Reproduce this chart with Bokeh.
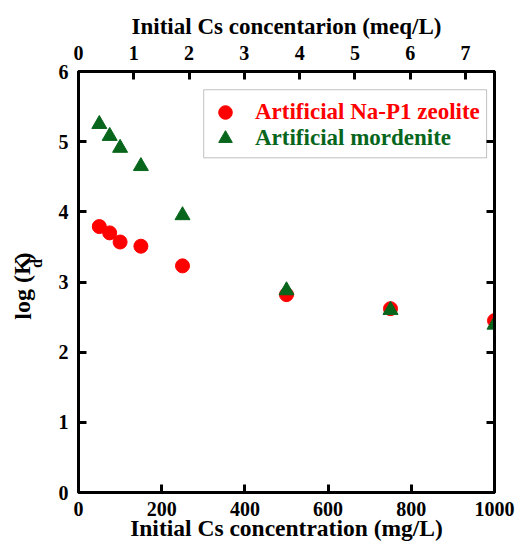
from bokeh.plotting import figure
from bokeh.layouts import row
from bokeh.models import Range1d, LinearAxis, Legend, LegendItem, Label, BoxAnnotation, FixedTicker
from bokeh.embed import file_html
from bokeh.resources import INLINE

# ---- data ----
conc_mg = [50, 75, 100, 150, 250, 500, 750, 1000]
logkd_nap1 = [3.79, 3.70, 3.57, 3.51, 3.23, 2.82, 2.62, 2.45]
logkd_mord = [5.25, 5.08, 4.91, 4.65, 3.95, 2.88, 2.60, 2.39]
x_ticks = [0, 200, 400, 600, 800, 1000]
y_ticks = [0, 1, 2, 3, 4, 5, 6]
meq_ticks = [0, 1, 2, 3, 4, 5, 6, 7]
CS_MG_PER_MEQ = 132.9
name_nap1 = "Artificial Na-P1 zeolite"
name_mord = "Artificial mordenite"
bottom_title = "Initial Cs concentration (mg/L)"
top_title = "Initial Cs concentarion (meq/L)"
y_title_main, y_title_sub, y_title_end = "log (K", "d", ")"

FONT = "Liberation Serif"
RED = "#ff0000"
GREEN = "#07661c"
W_LEFT = 50
H = 546

# narrow strip on the left holding the rotated y title (pixel-like coordinates)
t = figure(width=W_LEFT, height=H, x_range=Range1d(0, W_LEFT), y_range=Range1d(H, 0),
           x_axis_location=None, y_axis_location=None, output_backend="svg",
           toolbar_location=None, min_border=0)
t.xgrid.visible = False
t.ygrid.visible = False
t.outline_line_color = None
lab_style = dict(text_font=FONT, text_font_style="bold", text_color="black",
                 angle=1.5708, text_baseline="middle", text_align="left")
t.add_layout(Label(x=22, y=322, text=y_title_main, text_font_size="24px", **lab_style))
t.add_layout(Label(x=36, y=255, text=y_title_sub, text_font_size="16px", **lab_style))
t.add_layout(Label(x=22, y=245, text=y_title_end, text_font_size="24px", **lab_style))

p = figure(width=530 - W_LEFT, height=H,
           x_range=Range1d(0, 1000), y_range=Range1d(0, 6),
           extra_x_ranges={"meq": Range1d(0, 1000 / CS_MG_PER_MEQ)},
           output_backend="svg", toolbar_location=None,
           min_border_left=78 - W_LEFT, min_border_top=71, min_border_right=36, min_border_bottom=54)

top = LinearAxis(x_range_name="meq", ticker=FixedTicker(ticks=meq_ticks), axis_label=top_title)
p.add_layout(top, "above")
right = LinearAxis(ticker=FixedTicker(ticks=y_ticks))
p.add_layout(right, "right")

bottom = p.below[0]
left = p.left[0]
bottom.ticker = FixedTicker(ticks=x_ticks)
left.ticker = FixedTicker(ticks=y_ticks)
bottom.axis_label = bottom_title

p.xgrid.visible = False
p.ygrid.visible = False
p.outline_line_color = "black"
p.outline_line_width = 3

for ax in [bottom, left, top, right]:
    ax.axis_line_width = 3
    ax.axis_line_color = "black"
    ax.major_tick_line_width = 3
    ax.major_tick_line_color = "black"
    ax.major_tick_in = 8
    ax.major_tick_out = 0
    ax.minor_tick_line_color = None
    ax.major_label_text_font = FONT
    ax.major_label_text_font_style = "bold"
    ax.major_label_text_font_size = "20px"
    ax.major_label_text_color = "black"
    ax.major_label_standoff = 10
    ax.axis_label_text_font = FONT
    ax.axis_label_text_font_style = "bold"
    ax.axis_label_text_font_size = "24px"
    ax.axis_label_text_color = "black"
right.major_label_text_color = None
top.major_label_standoff = 12
top.axis_label_standoff = 4
top.axis_label_text_font_size = "23px"
bottom.major_label_standoff = 9
bottom.axis_label_standoff = -4
bottom.axis_label_text_font_size = "23.5px"

r1 = p.scatter(conc_mg, logkd_nap1, marker="circle", size=14, fill_color=RED, line_color=RED)
r2 = p.scatter(conc_mg, logkd_mord, marker="triangle", size=15, fill_color=GREEN, line_color=GREEN)

# legend box
p.add_layout(BoxAnnotation(left=301, right=981, top=5.74, bottom=4.77,
                           fill_color=None, line_color="#333333", line_width=1))

def make_legend(label, rend, color, bottom_px):
    leg = Legend(items=[LegendItem(label=label, renderers=[rend])],
                 location=(130, bottom_px), padding=0, margin=0, spacing=0,
                 glyph_width=34, glyph_height=34, label_height=34, label_standoff=13,
                 border_line_color=None, background_fill_alpha=0,
                 label_text_color=color, label_text_font=FONT,
                 label_text_font_style="bold", label_text_font_size="23px")
    p.add_layout(leg)

make_legend(name_nap1, r1, RED, 363)
make_legend(name_mord, r2, GREEN, 337)

layout = row(t, p, spacing=0)
open("out.html", "w").write(file_html(layout, INLINE))
